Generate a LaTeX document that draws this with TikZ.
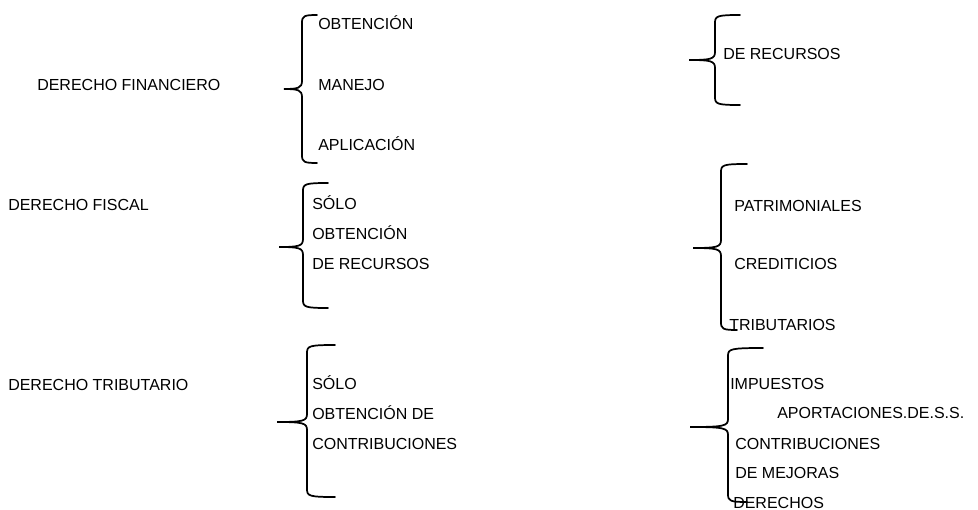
\documentclass[tikz,border=0pt]{standalone}
\usepackage{fontspec}
\setmainfont{Liberation Sans}

% llave: tip x, tip y, line x, top y, bottom y, top end x, bottom end x
\newcommand{\llave}[7]{%
  \draw[llave] (#6,#4) .. controls (#3+2,#4) and (#3,#4+1) .. (#3,#4+8)
    -- (#3,#2-8) .. controls (#3,#2-1) and (#3-4,#2) .. (#1,#2)
    .. controls (#3-4,#2) and (#3,#2+1) .. (#3,#2+8)
    -- (#3,#5-8) .. controls (#3,#5-1) and (#3+2,#5) .. (#7,#5);}

\begin{document}
\begin{tikzpicture}[x=0.75pt,y=-0.75pt,
  font=\fontsize{12}{14}\selectfont,
  txt/.style={anchor=base west, inner sep=0pt},
  llave/.style={line width=1.3pt, line cap=round}]
\useasboundingbox (0,0) rectangle (978,510);

% Left column
\node[txt] (dfin) at (37,90) {DERECHO FINANCIERO};
\node[txt] (dfis) at (8,210) {DERECHO FISCAL};
\node[txt] (dtri) at (8,390) {DERECHO TRIBUTARIO};

% Braces
\llave{284}{89}{302}{15}{163}{317}{317}
\llave{689}{60}{715}{15}{105}{740}{740}
\llave{279}{247}{303}{183}{308}{328}{328}
\llave{693}{248}{721}{164}{330}{747}{737}
\llave{277}{422}{307}{345}{497}{335}{335}
\llave{690}{427}{728}{348}{502}{763}{747}

% Financiero
\node[txt] (obt) at (318,30) {OBTENCIÓN};
\node[txt] (man) at (318,91) {MANEJO};
\node[txt] (apl) at (318,150) {APLICACIÓN};
\node[txt] (rec) at (723,60) {DE RECURSOS};

% Fiscal
\node[txt] (sol1) at (312,209) {SÓLO};
\node[txt] (obt1) at (312,239) {OBTENCIÓN};
\node[txt] (rec1) at (312,269) {DE RECURSOS};
\node[txt] (pat) at (734,211) {PATRIMONIALES};
\node[txt] (cre) at (734,269) {CREDITICIOS};
\node[txt] (tri) at (729,330) {TRIBUTARIOS};

% Tributario
\node[txt] (sol2) at (312,389) {SÓLO};
\node[txt] (obt2) at (312,419) {OBTENCIÓN DE};
\node[txt] (con2) at (312,449) {CONTRIBUCIONES};
\node[txt] (imp) at (730,389) {IMPUESTOS};
\node[txt] (apo) at (777,418) {APORTACIONES.DE.S.S.};
\node[txt] (con) at (735,449) {CONTRIBUCIONES};
\node[txt] (mej) at (735,478) {DE MEJORAS};
\node[txt] (der) at (733,508) {DERECHOS};

\end{tikzpicture}
\end{document}
